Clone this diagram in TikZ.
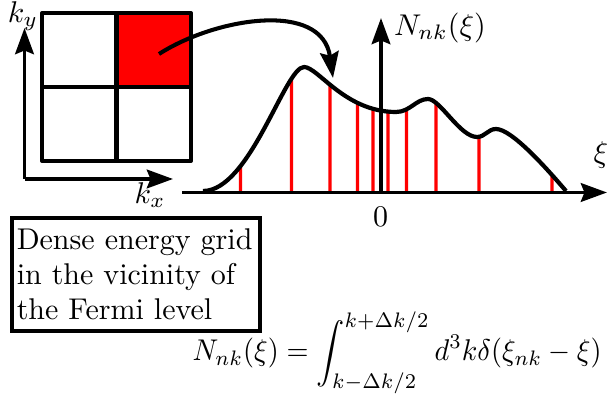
\documentclass[tikz,border=0pt]{standalone}
\usetikzlibrary{arrows.meta,intersections}
\begin{document}
\begin{tikzpicture}[x=0.3333pt,y=-0.3333pt,
  thickline/.style={line width=1.35pt},
  bigtip/.style={-{Stealth[length=8.7pt,width=6.2pt,inset=1.2pt]}},
  axisarrow/.style={line width=1.3pt,bigtip},
  redline/.style={red,line width=1.1pt},
  lbl/.style={inner sep=0pt},
  textbox/.style={draw,line width=1.3pt,align=left,text width=79.6pt,
    inner xsep=1.6pt,inner ysep=3.7pt,font=\fontsize{10}{11.67}\selectfont}]
\useasboundingbox (0,0) rectangle (608,396);
% k-grid
\fill[red] (116.5,13) rectangle (191,87);
\draw[thickline,line join=round] (42,13) rectangle (191,161);
\draw[thickline] (116.5,13) -- (116.5,161);
\draw[thickline] (42,87) -- (191,87);
\coordinate (korig) at (24.5,179);
\coordinate (kytip) at (24.5,28);
\coordinate (kxtip) at (173,179);
\draw[axisarrow] (korig) -- (kytip);
\draw[axisarrow] (korig) -- (kxtip);
\node[lbl] (ky) at (23,16) {$k_y$};
\node[lbl] (kx) at (150,195) {$k_x$};
% DOS curve
\def\dos{(203,191) .. controls (250,191) and (285,67) .. (304,67)
  .. controls (318,67) and (345,112) .. (396,112)
  .. controls (410,112) and (416,99) .. (428,99)
  .. controls (440,99) and (460,137) .. (477,137)
  .. controls (485,137) and (488,129) .. (496,129)
  .. controls (512,129) and (548,170) .. (566,191)}
\path[name path global=curve] \dos;
\foreach \x in {240.5,291.5,330,357.5,373,388,406.5,436,479,552} {
  \path[name path=vert] (\x,193) -- (\x,0);
  \draw[redline,name intersections={of=curve and vert,by=top}] (\x,192) -- (top);
}
\draw[line width=1.4pt,line join=round] \dos;
% main axes
\coordinate (xistart) at (182,192.5);
\coordinate (xitip) at (607,192.5);
\coordinate (nbase) at (381,192.5);
\coordinate (ntip) at (381,18);
\draw[axisarrow] (xistart) -- (xitip);
\draw[axisarrow] (nbase) -- (ntip);
\node[lbl] (xi) at (601,155) {$\xi$};
\node[lbl] (nlab) at (440,28) {$N_{nk}(\xi)$};
\node[lbl] (zero) at (380.5,217) {$0$};
% arrow from cell to curve
\coordinate (cell) at (159,54);
\coordinate (ontop) at (333,78);
\draw[thickline,bigtip] (cell) .. controls (215,18) and (322,0) .. (ontop);
% text box
\node[textbox,anchor=north west] (box) at (10,216) {Dense energy grid\\in the vicinity of\\the Fermi level};
% formula
\node[lbl,anchor=base west] (eq) at (192,361) {\resizebox{136.3pt}{\height}{$\displaystyle N_{nk}(\xi)=\int_{k-\Delta k/2}^{k+\Delta k/2} d^3k\delta(\xi_{nk}-\xi)$}};
\end{tikzpicture}
\end{document}
